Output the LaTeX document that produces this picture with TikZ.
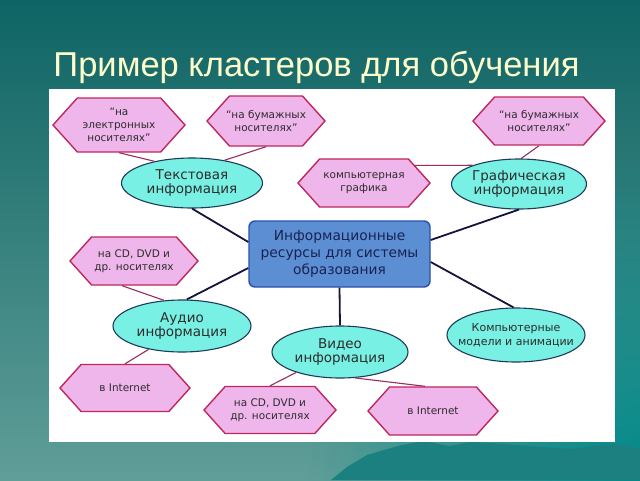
\documentclass[tikz,border=0pt]{standalone}
\usepackage{fontspec}
\setmainfont{DejaVu Sans}
\newfontfamily\titlefont{Liberation Sans}
\newfontfamily\nodefont{DejaVu Sans}
\usetikzlibrary{shapes.geometric,shapes.symbols,fadings}
\tikzfading[name=cornerfade, inner color=transparent!0, outer color=transparent!100]
\definecolor{bgtop}{RGB}{14,100,100}
\definecolor{bgbot}{RGB}{96,158,152}
\definecolor{bgright}{RGB}{0,138,138}
\definecolor{hexfill}{RGB}{238,182,234}
\definecolor{hexline}{RGB}{190,40,95}
\definecolor{ellfill}{RGB}{120,240,228}
\definecolor{ellline}{RGB}{30,60,90}
\definecolor{rectfill}{RGB}{92,142,212}
\definecolor{rectline}{RGB}{40,80,170}
\definecolor{recttext}{RGB}{25,35,80}
\definecolor{thickline}{RGB}{20,20,60}
\definecolor{thinline}{RGB}{150,45,95}
\definecolor{titlecol}{RGB}{255,255,204}
\definecolor{mount}{RGB}{28,128,128}
\definecolor{nodetext}{RGB}{45,45,45}
\begin{document}
\begin{tikzpicture}[x=1pt,y=-1pt,
  hexbox/.style={signal, signal to=west and east, signal pointer angle=96,
    draw=hexline, fill=hexfill, line width=1.4pt, inner sep=0pt},
  ellbox/.style={ellipse, draw=ellline, fill=ellfill, line width=1.1pt, inner sep=0pt},
  hextext/.style={font=\nodefont\fontsize{10.5}{13}\selectfont, align=center, text=nodetext, inner sep=0pt},
  elltext/.style={font=\nodefont\fontsize{13.5}{14.5}\selectfont, align=center, text=nodetext, inner sep=0pt},
  thickconn/.style={draw=thickline, line width=1.8pt},
  thinconn/.style={draw=thinline, line width=1.1pt}
]
\useasboundingbox (0,0) rectangle (640,480);
% background
\fill[top color=bgtop, bottom color=bgbot] (0,0) rectangle (640,480);
\fill[bgright, path fading=cornerfade] (640,480) circle[radius=330pt];
\fill[mount] (331,480) -- (347,467) -- (367,455) -- (384,450) -- (402,445) -- (424,441)
  -- (449,446) -- (470,442) -- (490,443) -- (530,446) -- (571,449) -- (612,444) -- (640,448) -- (640,480) -- cycle;
% title
\node[font=\titlefont\fontsize{34.5}{37}\selectfont, text=titlecol, anchor=base] (title) at (316.5,76) {Пример кластеров для обучения};
% panel
\fill[white] (49,89) rectangle (615,442);

% central node
\node[draw=rectline, fill=rectfill, line width=1.4pt, rounded corners=6pt,
  minimum width=181pt, minimum height=66pt, inner sep=0pt,
  font=\nodefont\fontsize{13.8}{17}\selectfont, text=recttext, align=center] (c) at (339.5,254)
  {Информационные\\ресурсы для системы\\образования};

% ellipses
\node[ellbox, minimum width=141pt, minimum height=50pt] (t) at (192,183) {};
\node[elltext] (tl) at (t) {Текстовая\\информация};
\node[ellbox, minimum width=135pt, minimum height=50pt] (g) at (519,184) {};
\node[elltext] (gl) at (g) {Графическая\\информация};
\node[ellbox, minimum width=138pt, minimum height=52pt] (a) at (182,326) {};
\node[elltext] (al) at (a) {Аудио\\информация};
\node[ellbox, minimum width=136pt, minimum height=52pt] (v) at (340,352) {};
\node[elltext] (vl) at (v) {Видео\\информация};
\node[ellbox, minimum width=138pt, minimum height=54pt] (m) at (516,335) {};
\node[elltext, font=\nodefont\fontsize{11}{14}\selectfont] (ml) at (m) {Компьютерные\\модели и анимации};

% hexagons
\node[hexbox, minimum width=132pt, minimum height=54pt] (h1) at (119,125) {};
\node[hextext] (h1l) at (h1) {“на\\электронных\\носителях”};
\node[hexbox, minimum width=118pt, minimum height=50pt] (h2) at (266,121) {};
\node[hextext] (h2l) at (h2) {“на бумажных\\носителях”};
\node[hexbox, minimum width=132pt, minimum height=48pt] (h3) at (539,121) {};
\node[hextext] (h3l) at (h3) {“на бумажных\\носителях”};
\node[hexbox, minimum width=132pt, minimum height=48pt] (h4) at (364,183) {};
\node[hextext] (h4l) at (h4) {компьютерная\\графика};
\node[hexbox, minimum width=128pt, minimum height=48pt] (h5) at (134,261) {};
\node[hextext] (h5l) at (h5) {на CD, DVD и\\др. носителях};
\node[hexbox, minimum width=130pt, minimum height=47pt] (h6) at (125,388) {};
\node[hextext] (h6l) at (h6) {в Internet};
\node[hexbox, minimum width=132pt, minimum height=47pt] (h7) at (270,410) {};
\node[hextext] (h7l) at (h7) {на CD, DVD и\\др. носителях};
\node[hexbox, minimum width=130pt, minimum height=48pt] (h8) at (433,411) {};
\node[hextext] (h8l) at (h8) {в Internet};

% thick connectors from the centre
\draw[thickconn] ([yshift=12pt]c.west) -- (t.south);
\draw[thickconn] ([yshift=14pt]c.east) -- (g.south);
\draw[thickconn] ([yshift=-14pt]c.west) -- (a.80);
\draw[thickconn] (c.south) -- (v.north);
\draw[thickconn] ([yshift=-8pt]c.east) -- (m.95);
% thin connectors
\draw[thinconn] (h1.south) -- (t.150);
\draw[thinconn] (h2.south) -- (t.35);
\draw[thinconn] (h4.19) -- (g.158);
\draw[thinconn] (h3.south) -- (g.85);
\draw[thinconn] ([xshift=-12pt]h5.south) -- (a.125);
\draw[thinconn] (h6.north) -- (a.215);
\draw[thinconn] (h7.north) -- (v.205);
\draw[thinconn] ([xshift=-8pt]h8.north) -- (v.300);
\end{tikzpicture}
\end{document}
